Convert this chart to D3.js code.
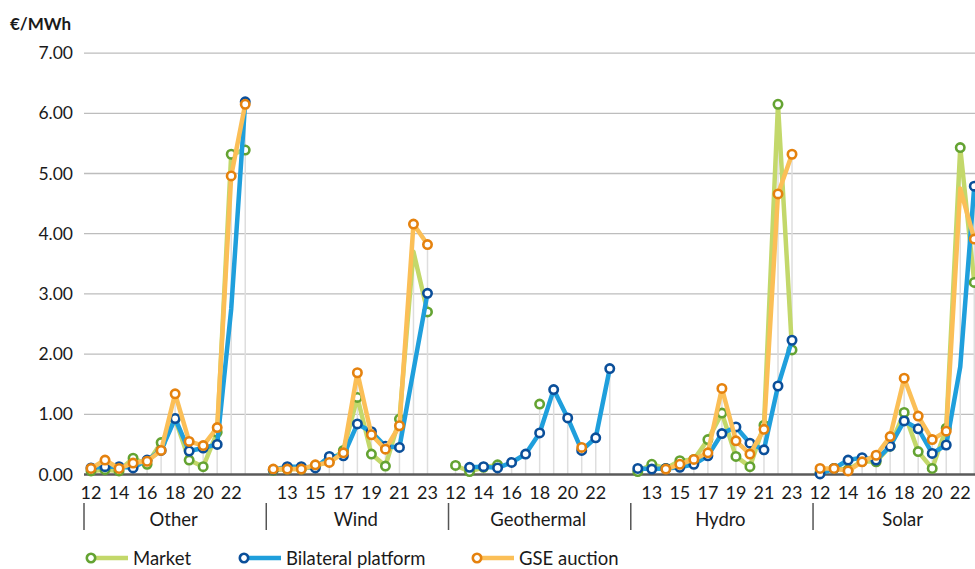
<!DOCTYPE html>
<html>
<head>
<meta charset="utf-8">
<style>
  html, body { margin: 0; padding: 0; background: #fff; overflow: hidden; }
  svg { display: block; font-family: Lato, "Open Sans", sans-serif; }
</style>
<script src="https://cdn.jsdelivr.net/npm/d3@7"></script>
</head>
<body>
<div id="chart"></div>
<script>
var groups = ['Other', 'Wind', 'Geothermal', 'Hydro', 'Solar'];
var years = ['12', '13', '14', '15', '16', '17', '18', '19', '20', '21', '22', '23'];
var yTicks = [0, 1, 2, 3, 4, 5, 6, 7];

// values per group, years 2012..2023 (null = no value)
var market = {
  Other: [0.06, 0.08, 0.06, 0.27, 0.17, 0.53, 0.92, 0.24, 0.13, 0.70, 5.32, 5.39],
  Wind: [0.07, 0.09, 0.09, 0.14, 0.22, 0.40, 1.28, 0.34, 0.14, 0.92, 3.70, 2.70],
  Geothermal: [0.15, 0.05, 0.12, 0.16, null, null, 1.17, null, null, null, null, null],
  Hydro: [0.05, 0.17, 0.10, 0.23, 0.25, 0.58, 1.02, 0.30, 0.13, 0.82, 6.15, 2.07],
  Solar: [0.03, 0.10, 0.08, 0.22, 0.21, 0.47, 1.03, 0.38, 0.10, 0.77, 5.43, 3.19]
};
var bilateral = {
  Other: [0.11, 0.13, 0.13, 0.11, 0.24, 0.40, 0.93, 0.39, 0.44, 0.50, 2.75, 6.19],
  Wind: [0.08, 0.13, 0.13, 0.11, 0.30, 0.31, 0.84, 0.71, 0.47, 0.45, 1.73, 3.01],
  Geothermal: [null, 0.12, 0.13, 0.11, 0.20, 0.34, 0.69, 1.41, 0.94, 0.40, 0.61, 1.76],
  Hydro: [0.10, 0.09, 0.10, 0.12, 0.17, 0.31, 0.68, 0.79, 0.52, 0.41, 1.47, 2.23],
  Solar: [0.01, 0.10, 0.24, 0.28, 0.24, 0.47, 0.89, 0.76, 0.35, 0.49, 1.79, 4.79]
};
var gse = {
  Other: [0.10, 0.24, 0.10, 0.19, 0.22, 0.40, 1.34, 0.55, 0.48, 0.78, 4.96, 6.15],
  Wind: [0.09, 0.09, 0.09, 0.16, 0.20, 0.36, 1.69, 0.66, 0.42, 0.81, 4.16, 3.82],
  Geothermal: [null, null, null, null, null, null, null, null, null, 0.45, null, null],
  Hydro: [null, null, 0.09, 0.17, 0.25, 0.36, 1.43, 0.56, 0.34, 0.75, 4.66, 5.32],
  Solar: [0.10, 0.10, 0.06, 0.21, 0.32, 0.63, 1.60, 0.97, 0.58, 0.72, 4.75, 3.91]
};
// points drawn without a marker in the original
var marketNoMarker = ['Wind|22'];
var bilateralNoMarker = ['Other|22', 'Wind|22', 'Solar|22'];
var gseNoMarker = ['Solar|22'];

(function() {
  var width = 975;
  var height = 569;
  var left = 84;
  var step = 14.02;
  var baseY = 474.5;
  var topY = 53.1;

  var series = [
    { name: 'Market', values: market, hide: marketNoMarker, line: '#c3d86a', stroke: '#64a332' },
    { name: 'Bilateral platform', values: bilateral, hide: bilateralNoMarker, line: '#1f9fdc', stroke: '#0b4f9a' },
    { name: 'GSE auction', values: gse, hide: gseNoMarker, line: '#fbbf57', stroke: '#e5820e' }
  ];

  // every group has the 12 years plus an empty spacer slot
  var keys = [];
  groups.forEach(function(g) {
    years.forEach(function(y) { keys.push(g + '|' + y); });
    keys.push(g + '|');
  });

  var x = d3.scaleBand().domain(keys).range([left, left + keys.length * step]);
  var y = d3.scaleLinear().domain([0, 7]).range([baseY, topY]);
  var cx = function(k) { return x(k) + x.bandwidth() / 2; };

  var svg = d3.select('#chart').append('svg')
    .attr('width', width)
    .attr('height', height);

  svg.append('text')
    .attr('x', 10)
    .attr('y', 30)
    .attr('font-size', 17)
    .attr('font-weight', 'bold')
    .attr('fill', '#1a1a1a')
    .text('€/MWh');

  // horizontal gridlines
  svg.append('g').selectAll('line')
    .data(yTicks.filter(function(t) { return t > 0; }))
    .enter().append('line')
    .attr('x1', left).attr('x2', width)
    .attr('y1', function(d) { return y(d); })
    .attr('y2', function(d) { return y(d); })
    .attr('stroke', '#bdbdbd')
    .attr('stroke-width', 1.3);

  svg.append('g').selectAll('text')
    .data(yTicks)
    .enter().append('text')
    .attr('x', 73)
    .attr('y', function(d) { return y(d) + 6; })
    .attr('text-anchor', 'end')
    .attr('font-size', 17.5)
    .attr('fill', '#1a1a1a')
    .text(function(d) { return d.toFixed(2); });

  // drop lines: from the highest value of each category down to the axis
  var drops = keys.map(function(k) {
    var p = k.split('|');
    var i = years.indexOf(p[1]);
    var vals = i < 0 ? [] : series.map(function(s) { return s.values[p[0]][i]; });
    return { key: k, max: d3.max(vals) };
  }).filter(function(d) { return d.max != null; });

  svg.append('g').selectAll('line')
    .data(drops)
    .enter().append('line')
    .attr('x1', function(d) { return cx(d.key); })
    .attr('x2', function(d) { return cx(d.key); })
    .attr('y1', function(d) { return y(d.max); })
    .attr('y2', baseY)
    .attr('stroke', '#dedede')
    .attr('stroke-width', 1.5);

  svg.append('line')
    .attr('x1', left).attr('x2', width)
    .attr('y1', baseY).attr('y2', baseY)
    .attr('stroke', '#5a5a5a')
    .attr('stroke-width', 2.5);

  // year labels, every second category like the original axis
  svg.append('g').selectAll('text')
    .data(keys.filter(function(k, i) { return i % 2 === 0 && k.split('|')[1] !== ''; }))
    .enter().append('text')
    .attr('x', function(k) { return cx(k); })
    .attr('y', 499)
    .attr('text-anchor', 'middle')
    .attr('font-size', 18)
    .attr('fill', '#1a1a1a')
    .text(function(k) { return k.split('|')[1]; });

  // group labels and separators
  var grp = svg.append('g').selectAll('g')
    .data(groups)
    .enter().append('g');

  grp.append('line')
    .attr('x1', function(g) { return x(g + '|12'); })
    .attr('x2', function(g) { return x(g + '|12'); })
    .attr('y1', 503).attr('y2', 530)
    .attr('stroke', '#555')
    .attr('stroke-width', 1.5);

  grp.append('text')
    .attr('x', function(g) { return x(g + '|12') + 6.5 * step - 1.5; })
    .attr('y', 526)
    .attr('text-anchor', 'middle')
    .attr('font-size', 18.5)
    .attr('fill', '#1a1a1a')
    .text(function(g) { return g; });

  var line = d3.line()
    .defined(function(d) { return d.v != null; })
    .x(function(d) { return cx(d.key); })
    .y(function(d) { return y(d.v); });

  series.forEach(function(s) {
    var pts = keys.map(function(k) {
      var p = k.split('|');
      var i = years.indexOf(p[1]);
      return { key: k, v: i < 0 ? null : s.values[p[0]][i] };
    });
    var layer = svg.append('g');
    layer.append('path')
      .datum(pts)
      .attr('d', line)
      .attr('fill', 'none')
      .attr('stroke', s.line)
      .attr('stroke-width', 4.5)
      .attr('stroke-linejoin', 'round');
    layer.selectAll('circle')
      .data(pts.filter(function(d) { return d.v != null && s.hide.indexOf(d.key) < 0; }))
      .enter().append('circle')
      .attr('cx', function(d) { return cx(d.key); })
      .attr('cy', function(d) { return y(d.v); })
      .attr('r', 4.2)
      .attr('fill', '#fff')
      .attr('stroke', s.stroke)
      .attr('stroke-width', 2.6);
  });

  // legend
  var legendX = [91, 244, 477];
  var leg = svg.append('g').selectAll('g')
    .data(series)
    .enter().append('g')
    .attr('transform', function(d, i) { return 'translate(' + legendX[i] + ',558)'; });
  leg.append('line')
    .attr('x1', 0).attr('x2', 37)
    .attr('stroke', function(d) { return d.line; })
    .attr('stroke-width', 4.5);
  leg.append('circle')
    .attr('r', 4.2)
    .attr('fill', '#fff')
    .attr('stroke', function(d) { return d.stroke; })
    .attr('stroke-width', 2.6);
  leg.append('text')
    .attr('x', 42)
    .attr('y', 6.5)
    .attr('font-size', 18.5)
    .attr('fill', '#1a1a1a')
    .text(function(d) { return d.name; });
}).call(this);
</script>
</body>
</html>
